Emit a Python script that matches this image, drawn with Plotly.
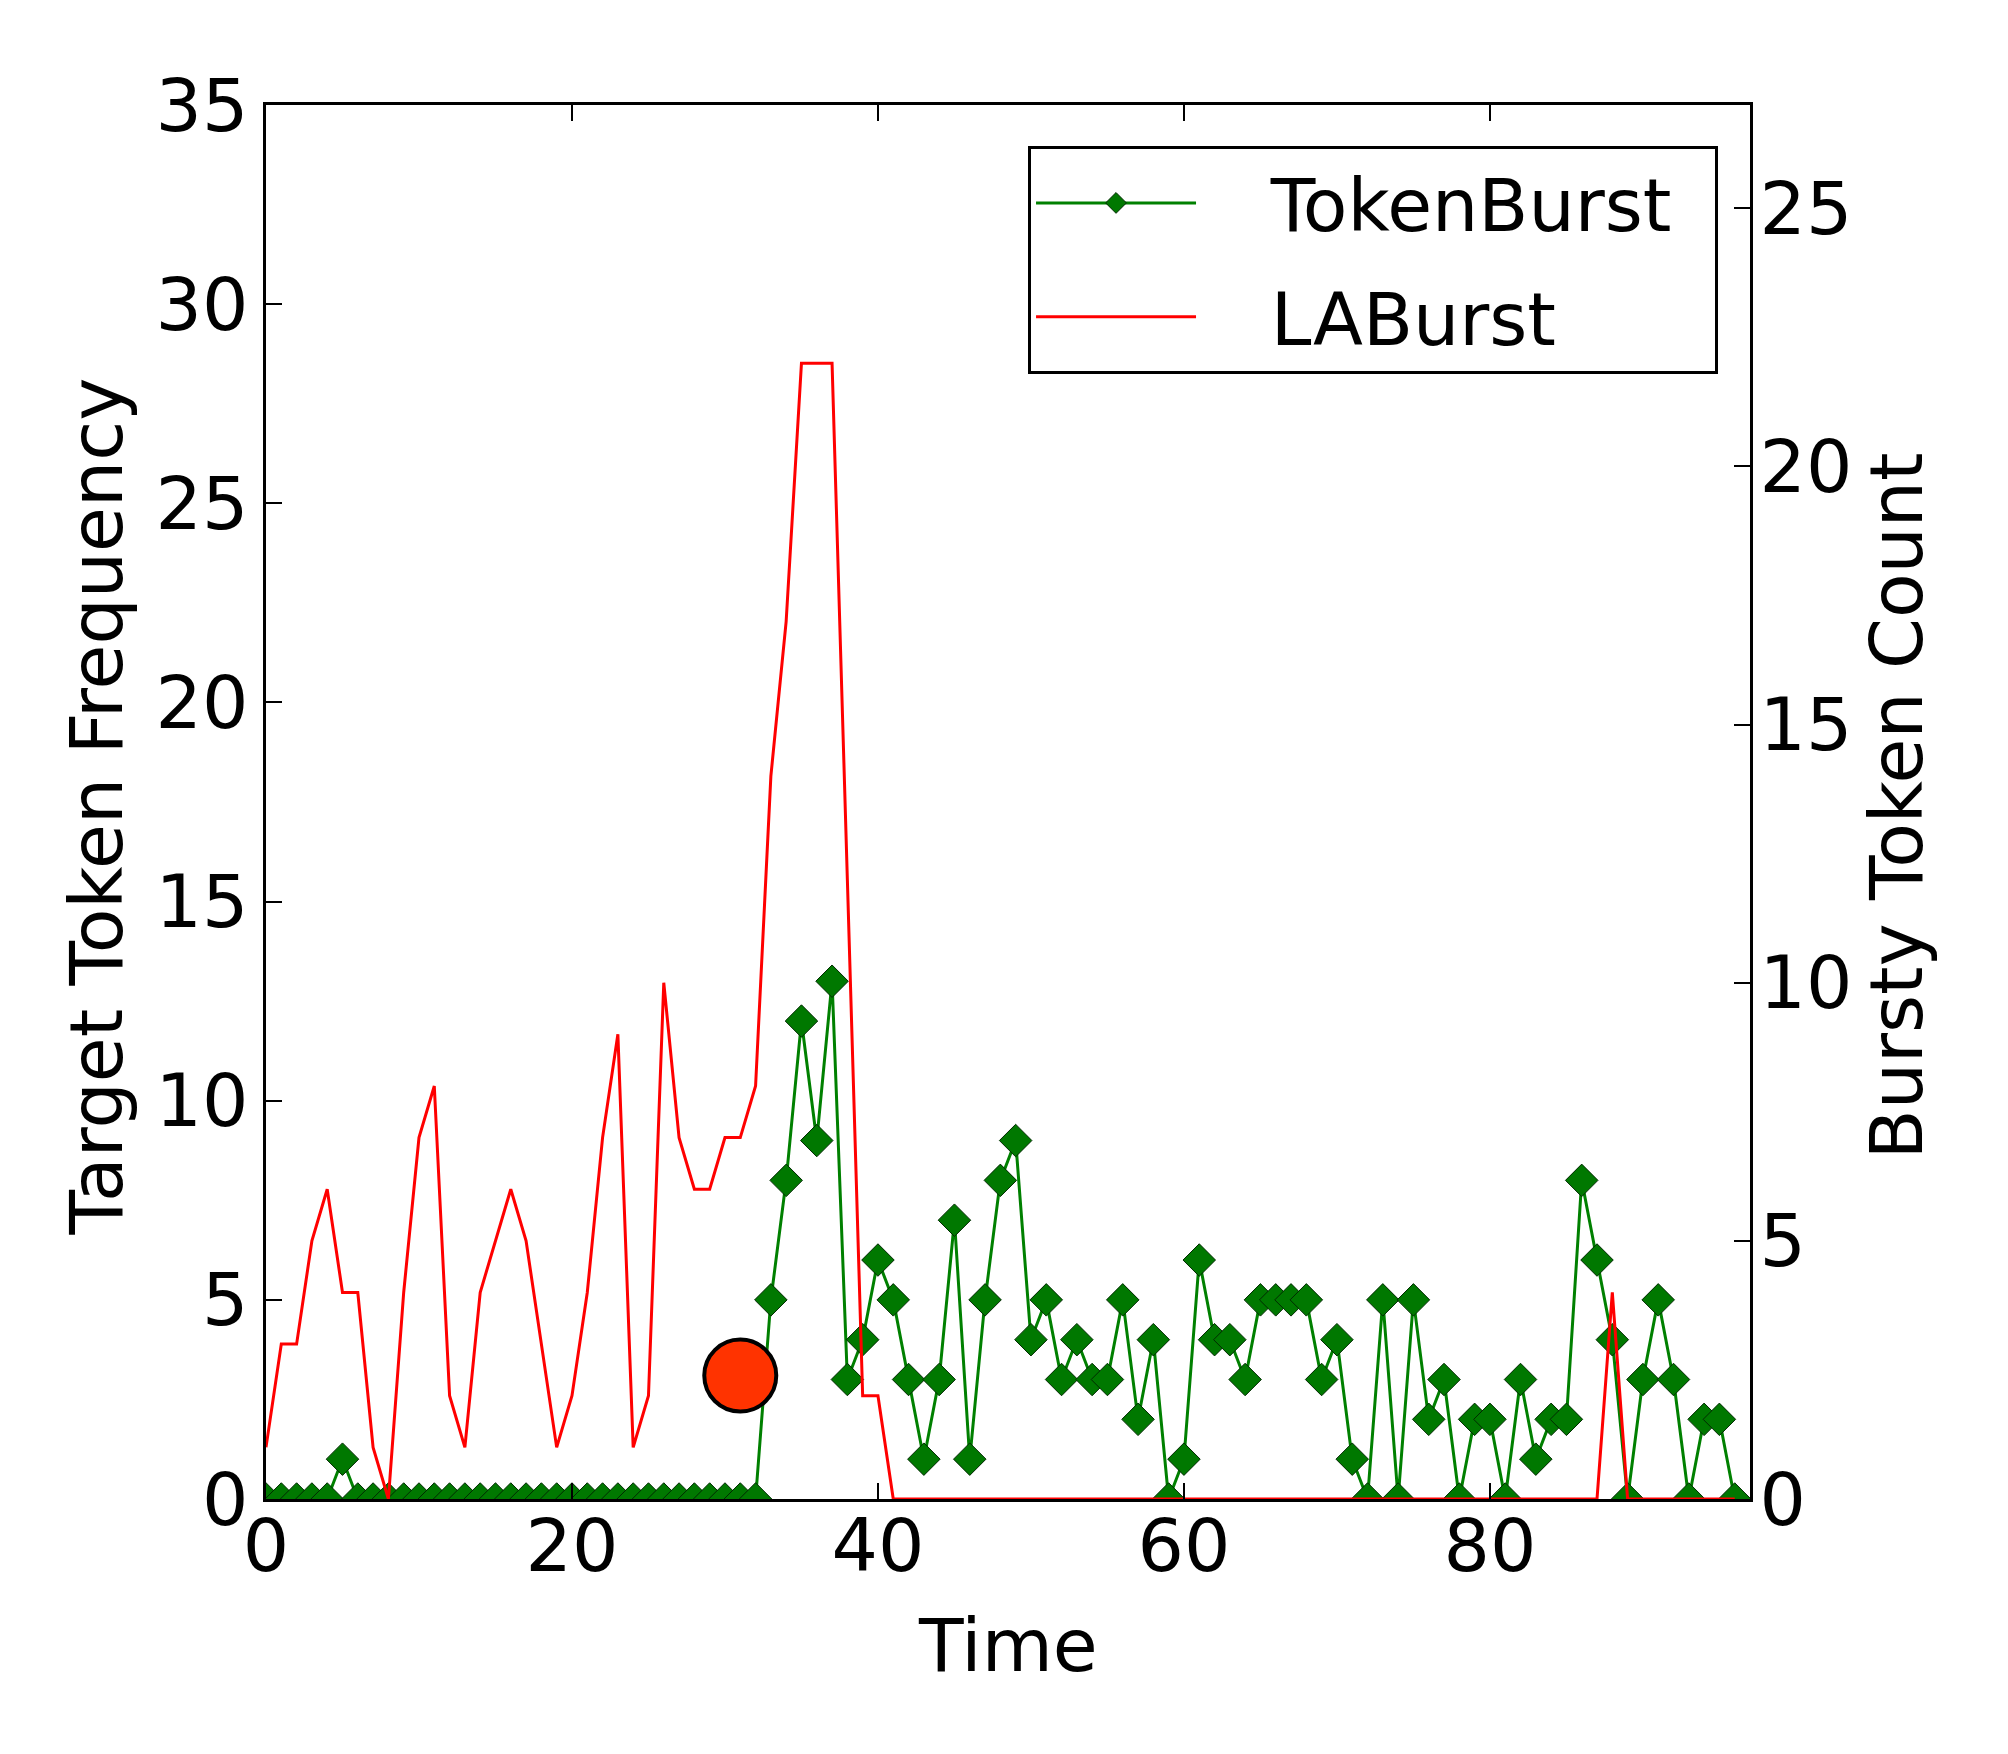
import plotly.graph_objects as go

# ---- data ----
time = list(range(97))

token_burst = [0, 0, 0, 0, 0, 1, 0, 0, 0, 0,
               0, 0, 0, 0, 0, 0, 0, 0, 0, 0,
               0, 0, 0, 0, 0, 0, 0, 0, 0, 0,
               0, 0, 0, 5, 8, 12, 9, 13, 3, 4,
               6, 5, 3, 1, 3, 7, 1, 5, 8, 9,
               4, 5, 3, 4, 3, 3, 5, 2, 4, 0,
               1, 6, 4, 4, 3, 5, 5, 5, 5, 3,
               4, 1, 0, 5, 0, 5, 2, 3, 0, 2,
               2, 0, 3, 1, 2, 2, 8, 6, 4, 0,
               3, 5, 3, 0, 2, 2, 0]

la_burst = [1, 3, 3, 5, 6, 4, 4, 1, 0, 4,
            7, 8, 2, 1, 4, 5, 6, 5, 3, 1,
            2, 4, 7, 9, 1, 2, 10, 7, 6, 6,
            7, 7, 8, 14, 17, 22, 22, 22, 12, 2,
            2, 0, 0, 0, 0, 0, 0, 0, 0, 0,
            0, 0, 0, 0, 0, 0, 0, 0, 0, 0,
            0, 0, 0, 0, 0, 0, 0, 0, 0, 0,
            0, 0, 0, 0, 0, 0, 0, 0, 0, 0,
            0, 0, 0, 0, 0, 0, 0, 0, 4, 0,
            0, 0, 0, 0, 0, 0, 0]

event_x = [31]
event_y = [3.1]

x_ticks = [0, 20, 40, 60, 80]
y_left_ticks = [0, 5, 10, 15, 20, 25, 30, 35]
y_right_ticks = [0, 5, 10, 15, 20, 25]

FONT = "DejaVu Sans"
FS = 73
NB = "\u00a0"

fig = go.Figure()

fig.add_trace(go.Scatter(
    x=time, y=token_burst, mode="lines+markers",
    name=NB * 3 + "TokenBurst" + NB + "\u2009",
    line=dict(color="#008000", width=3),
    marker=dict(symbol="diamond", size=25, color="#007800",
                line=dict(color="#002a00", width=1)),
    yaxis="y", legendgroup="a"))

fig.add_trace(go.Scatter(
    x=time, y=la_burst, mode="lines",
    name=NB * 3 + "LABurst",
    line=dict(color="#FF0000", width=3),
    yaxis="y2", legendgroup="b"))

fig.add_trace(go.Scatter(
    x=event_x, y=event_y, mode="markers", showlegend=False,
    marker=dict(size=72, color="#FF3300", line=dict(color="black", width=4)),
    yaxis="y"))

axis_common = dict(showgrid=False, zeroline=False, showline=True,
                   linecolor="black", linewidth=3, ticks="inside",
                   ticklen=16, tickwidth=2, tickcolor="black",
                   tickfont=dict(family=FONT, size=FS, color="black"))

fig.update_layout(
    width=2008, height=1754,
    paper_bgcolor="white", plot_bgcolor="white",
    margin=dict(l=258, r=266, t=97, b=263),
    font=dict(family=FONT, size=FS, color="black"),
    xaxis=dict(range=[0, 97], tickvals=x_ticks, mirror="ticks",
               ticklabelstandoff=-19, **axis_common),
    yaxis=dict(range=[0, 35], tickvals=y_left_ticks,
               ticklabelstandoff=0, **axis_common),
    yaxis2=dict(range=[0, 27], tickvals=y_right_ticks, overlaying="y",
                side="right", ticklabelstandoff=-8, **axis_common),
    showlegend=True,
    legend=dict(x=0.5135, y=0.9706, xanchor="left", yanchor="top",
                bgcolor="white", bordercolor="black", borderwidth=3,
                font=dict(family=FONT, size=FS, color="black"),
                itemwidth=160, tracegroupgap=16),
    annotations=[
        dict(text="Time", xref="paper", yref="paper", x=0.5, y=-0.0732,
             xanchor="center", yanchor="top", showarrow=False,
             font=dict(family=FONT, size=FS, color="black")),
        dict(text="Target Token Frequency", xref="paper", yref="paper",
             x=-0.1143, y=0.497, xanchor="center", yanchor="middle",
             textangle=-90, showarrow=False,
             font=dict(family=FONT, size=FS, color="black")),
        dict(text="Bursty Token Count", xref="paper", yref="paper",
             x=1.099, y=0.4975, xanchor="center", yanchor="middle",
             textangle=-90, showarrow=False,
             font=dict(family=FONT, size=FS, color="black")),
    ],
)

fig.write_html("out.html")
